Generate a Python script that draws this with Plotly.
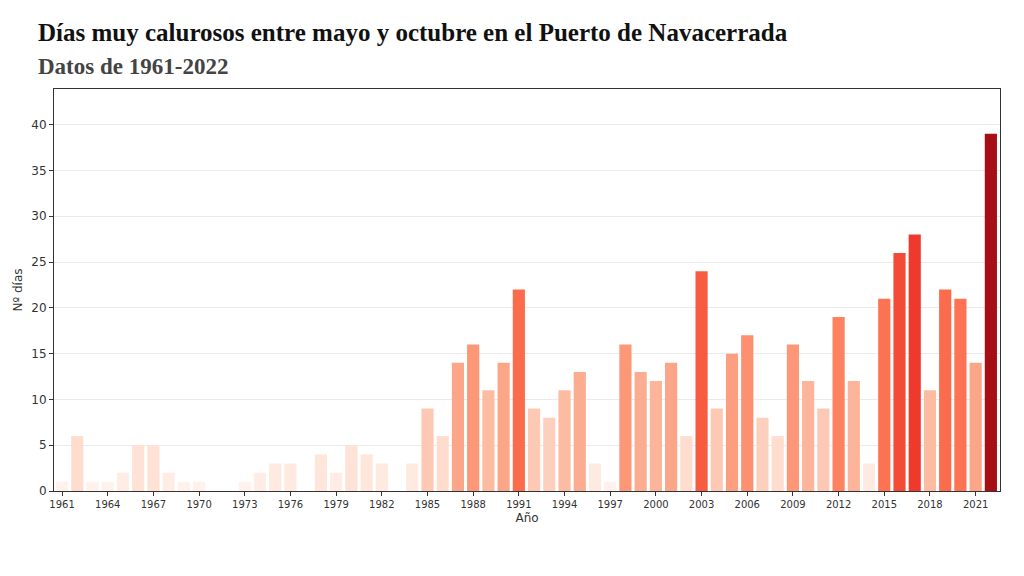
import plotly.graph_objects as go
import plotly.colors as pc

years = list(range(1961, 2023))
dias = [1, 6, 1, 1, 2, 5, 5, 2, 1, 1,
        0, 0, 1, 2, 3, 3, 0, 4, 2, 5,
        4, 3, 0, 3, 9, 6, 14, 16, 11, 14,
        22, 9, 8, 11, 13, 3, 1, 16, 13, 12,
        14, 6, 24, 9, 15, 17, 8, 6, 16, 12,
        9, 19, 12, 3, 21, 26, 28, 11, 22, 21,
        14, 39]
tick_years = list(range(1961, 2023, 3))

title = "Días muy calurosos entre mayo y octubre en el Puerto de Navacerrada"
subtitle = "Datos de 1961-2022"

fig = go.Figure(go.Bar(
    x=years, y=dias,
    marker=dict(color=dias, colorscale=pc.sequential.Reds, cmin=0, cmax=44.6,
                line=dict(width=0)),
    width=0.8,
    hovertemplate="%{x}: %{y}<extra></extra>",
))

axis_common = dict(showline=True, linecolor="#333333", linewidth=1, mirror=True,
                   ticks="outside", ticklen=4, tickcolor="#333333")

fig.update_layout(
    width=1024, height=576,
    margin=dict(l=54, r=24, t=89, b=85),
    paper_bgcolor="white", plot_bgcolor="white",
    showlegend=False,
    xaxis=dict(range=[1960.47, 2022.6], tickvals=tick_years, showgrid=False,
               tickfont=dict(family="DejaVu Sans", size=10, color="#333333"),
               title=dict(text="Año", font=dict(family="DejaVu Sans", size=12, color="#333333"), standoff=4),
               **axis_common),
    yaxis=dict(range=[0, 43.9], tickvals=list(range(0, 45, 5)), showgrid=True,
               gridcolor="#ebebeb", gridwidth=1, zeroline=False,
               tickfont=dict(family="DejaVu Sans", size=12, color="#333333"),
               title=dict(text="Nº días", font=dict(family="DejaVu Sans", size=12, color="#333333"), standoff=6),
               **axis_common),
)
fig.add_annotation(text="<b>" + title + "</b>", xref="paper", yref="paper",
                   x=(36 - 54) / 946, y=1 + (89 - 33) / 402, xanchor="left", yanchor="middle",
                   showarrow=False, font=dict(family="Liberation Serif", size=25, color="#111111"))
fig.add_annotation(text="<b>" + subtitle + "</b>", xref="paper", yref="paper",
                   x=(36 - 54) / 946, y=1 + (89 - 66) / 402, xanchor="left", yanchor="middle",
                   showarrow=False, font=dict(family="Liberation Serif", size=23, color="#444444"))

fig.write_html("out.html")
